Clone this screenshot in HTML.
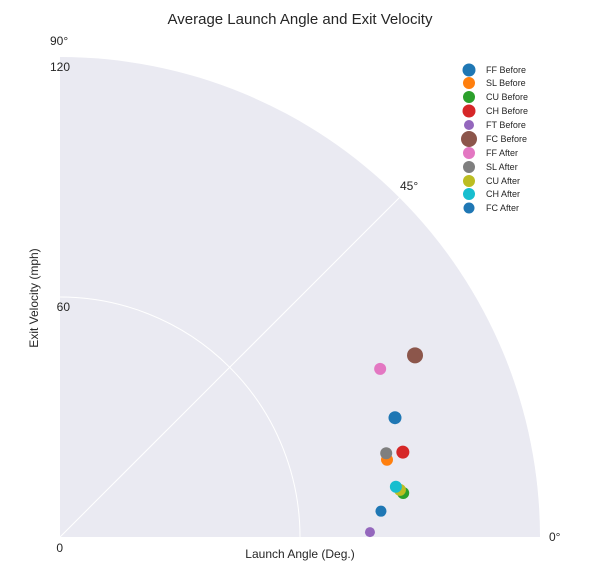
<!DOCTYPE html>
<html><head><meta charset="utf-8"><style>
body{margin:0;background:#fff;font-family:"Liberation Sans",sans-serif}
svg text{font-family:"Liberation Sans",sans-serif;fill:#262626}
</style></head><body>
<svg id="chart" width="600" height="566">
<text x="300" y="24" font-size="15" text-anchor="middle">Average Launch Angle and Exit Velocity</text>
<g id="plot"></g>
<g id="legend"></g>
<text x="300" y="558" font-size="12" text-anchor="middle">Launch Angle (Deg.)</text>
<text transform="translate(38,298) rotate(-90)" font-size="12" text-anchor="middle">Exit Velocity (mph)</text>
</svg>
<script>
const labels=["FF Before","SL Before","CU Before","CH Before","FT Before","FC Before","FF After","SL After","CU After","CH After","FC After"];
const angles=[19.6,13.3,7.3,13.9,0.9,27.1,27.7,14.4,7.9,8.5,4.6];
const velocities=[88.9,84.0,86.5,88.3,77.5,99.7,90.4,84.2,85.8,84.9,80.5];
const colors=["#1f77b4","#ff7f0e","#2ca02c","#d62728","#9467bd","#8c564b","#e377c2","#7f7f7f","#bcbd22","#17becf","#1f77b4"];
const sizes=[6.5,6,6,6.5,5,8,6,6,6,6,5.5];
const rTicks=[0,60,120];
const ns="http://www.w3.org/2000/svg";
const cx=60,cy=537,R=480,rMax=120;
const rs=v=>v/rMax*R;
const px=(a,v)=>cx+rs(v)*Math.cos(a*Math.PI/180);
const py=(a,v)=>cy-rs(v)*Math.sin(a*Math.PI/180);
const plot=document.getElementById('plot');
function mk(t,at,p){const e=document.createElementNS(ns,t);for(const k in at)e.setAttribute(k,at[k]);p.appendChild(e);return e;}
const bg=mk('path',{d:`M${cx},${cy} L${cx+R},${cy} A${R},${R} 0 0 0 ${cx},${cy-R} Z`,fill:'#eaeaf2'},plot);


const arc=mk('path',{d:`M${cx+rs(60)},${cy} A${rs(60)},${rs(60)} 0 0 0 ${cx},${cy-rs(60)}`,fill:'none',stroke:'#fff','stroke-width':1},plot);


const gl=mk('line',{x1:cx,y1:cy,x2:px(45,120),y2:py(45,120),stroke:'#fff','stroke-width':1},plot);


const tl=[["90°",50,45],["45°",400,190],["0°",549,541]];
tl.forEach(t=>{const e=mk('text',{x:t[1],y:t[2],'font-size':12},plot);e.textContent=t[0];

});
rTicks.forEach(v=>{
const yy=v===0?cy+15:cy-rs(v)+14;
const e=mk('text',{x:v===0?63:70,y:yy,'font-size':12,'text-anchor':'end'},plot);
e.textContent=v;

});
labels.forEach((l,i)=>{const c=mk('circle',{cx:px(angles[i],velocities[i]),cy:py(angles[i],velocities[i]),r:sizes[i],fill:colors[i]},plot);

});
const lg=document.getElementById('legend');
const ly=[70,83,97,111,125,139,153,167,181,194,208];
labels.forEach((l,i)=>{const c=mk('circle',{cx:469,cy:ly[i],r:sizes[i],fill:colors[i]},lg);


const t=mk('text',{x:486,y:ly[i]+3,'font-size':9},lg);t.textContent=l;

});
</script>
</body></html>
